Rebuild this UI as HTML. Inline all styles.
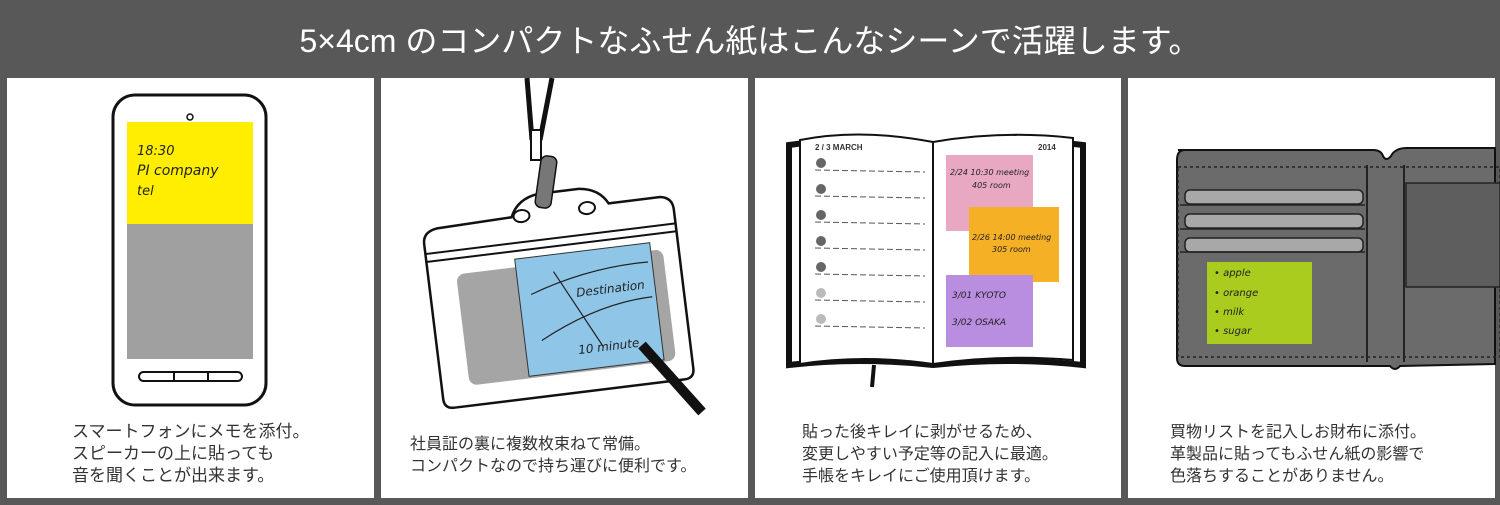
<!DOCTYPE html>
<html><head><meta charset="utf-8"><style>
html,body{margin:0;padding:0;width:1500px;height:505px;overflow:hidden;background:#585858}
svg{display:block}
.jp{font-family:"Liberation Sans","Noto Sans CJK JP",sans-serif}
.hw{font-family:"DejaVu Sans","Liberation Sans",sans-serif;font-style:italic}
</style></head><body>
<svg width="1500" height="505" viewBox="0 0 1500 505" xmlns="http://www.w3.org/2000/svg">
<rect width="1500" height="505" fill="#585858"/>
<text x="750" y="52" text-anchor="middle" class="jp" font-size="32" fill="#fff">5×4cm のコンパクトなふせん紙はこんなシーンで活躍します。</text>
<rect x="7" y="78" width="367" height="420" fill="#fff"/>
<rect x="381" y="78" width="367" height="420" fill="#fff"/>
<rect x="755" y="78" width="366" height="420" fill="#fff"/>
<rect x="1128" y="78" width="367" height="420" fill="#fff"/>

<!-- phone -->
<rect x="113" y="95" width="153" height="310" rx="22" fill="#fff" stroke="#111" stroke-width="3"/>
<circle cx="190" cy="117" r="3" fill="none" stroke="#111" stroke-width="1.5"/>
<rect x="127" y="122" width="126" height="102" fill="#ffee00"/>
<rect x="127" y="224" width="126" height="135" fill="#a0a0a0"/>
<text x="137" y="155" class="hw" font-size="13" fill="#222">18:30</text>
<text x="137" y="175" class="hw" font-size="14" fill="#222">PI company</text>
<text x="137" y="195" class="hw" font-size="13" fill="#222">tel</text>
<rect x="139" y="372" width="103" height="9" rx="4.5" fill="none" stroke="#111" stroke-width="2"/>
<line x1="174" y1="372" x2="174" y2="381" stroke="#111" stroke-width="2"/>
<line x1="208" y1="372" x2="208" y2="381" stroke="#111" stroke-width="2"/>
<text class="jp" font-size="17" fill="#333"><tspan x="72" y="437">スマートフォンにメモを添付。</tspan><tspan x="72" y="459">スピーカーの上に貼っても</tspan><tspan x="72" y="481">音を聞くことが出来ます。</tspan></text>

<!-- badge -->
<path d="M527 78 L532 140 M552 78 L540 140" stroke="#111" stroke-width="5" fill="none"/>
<rect x="531" y="130" width="10" height="30" fill="#fff" stroke="#111" stroke-width="2"/>
<g transform="rotate(-7 560 300)">
<path d="M432 228 q0-12 14-14 l76-2 q8-18 30-20 l40 0 q20 2 28 18 l52 0 q12 2 12 14 l0 160 q0 10-10 10 l-232 0 q-10 0-10-10 z" fill="#fff" stroke="#111" stroke-width="2.5"/>
<line x1="432" y1="238" x2="684" y2="238" stroke="#111" stroke-width="2"/>
<line x1="432" y1="246" x2="684" y2="246" stroke="#111" stroke-width="2"/>
<ellipse cx="532" cy="212" rx="8" ry="6" fill="none" stroke="#111" stroke-width="2"/>
<ellipse cx="598" cy="212" rx="8" ry="6" fill="none" stroke="#111" stroke-width="2"/>
<rect x="460" y="262" width="208" height="112" rx="8" fill="#a5a5a5"/>
<rect x="520" y="254" width="136" height="118" fill="#8fc6e8" stroke="#333" stroke-width="1"/>
<text x="577" y="299" class="hw" font-size="12" fill="#222">Destination</text>
<text x="572" y="356" class="hw" font-size="12" fill="#222">10 minute</text>
<path d="M532 291 q60-20 120-18 M537 338 q60-30 115-30 M557 271 l40 80" stroke="#222" fill="none" stroke-width="1.2"/>
</g>
<rect x="538" y="156" width="16" height="52" rx="6" fill="#777" stroke="#111" stroke-width="1.5" transform="rotate(8 546 182)"/>
<line x1="642" y1="345" x2="702" y2="412" stroke="#111" stroke-width="10"/>
<text class="jp" font-size="16" fill="#333"><tspan x="410" y="449">社員証の裏に複数枚束ねて常備。</tspan><tspan x="410" y="471">コンパクトなので持ち運びに便利です。</tspan></text>

<!-- notebook -->
<path d="M789 145 q70-10 144 0 q70-10 150 0 l0 220 q-75-8 -150 0 q-75-8-144 0 z" fill="#fff" stroke="#111" stroke-width="6"/>
<path d="M800 140 q60-12 133 2 l0 222 q-70-10 -133 0 z" fill="#fff" stroke="#111" stroke-width="2"/>
<path d="M933 142 q70-12 140 -4 l0 222 q-70-6 -140 4 z" fill="#fff" stroke="#111" stroke-width="2"/>
<line x1="874" y1="365" x2="872" y2="387" stroke="#111" stroke-width="4"/>
<text x="815" y="150" class="jp" font-size="8" font-weight="bold" fill="#333">2 / 3 MARCH</text>
<text x="1038" y="150" class="jp" font-size="8" font-weight="bold" fill="#333">2014</text>
<g stroke="#555" stroke-width="1" stroke-dasharray="6 3">
<line x1="815" y1="170" x2="925" y2="172"/><line x1="815" y1="196" x2="925" y2="198"/><line x1="815" y1="222" x2="925" y2="224"/><line x1="815" y1="248" x2="925" y2="250"/><line x1="815" y1="274" x2="925" y2="276"/><line x1="815" y1="300" x2="925" y2="302"/><line x1="815" y1="326" x2="925" y2="328"/>
</g>
<g fill="#666"><circle cx="821" cy="163" r="5"/><circle cx="821" cy="189" r="5"/><circle cx="821" cy="215" r="5"/><circle cx="821" cy="241" r="5"/><circle cx="821" cy="267" r="5"/></g>
<g fill="#bbb"><circle cx="821" cy="293" r="5"/><circle cx="821" cy="319" r="5"/></g>
<rect x="946" y="155" width="87" height="76" fill="#e8a8c2"/>
<rect x="969" y="207" width="90" height="75" fill="#f6b026"/>
<rect x="946" y="275" width="87" height="72" fill="#b98de0"/>
<text x="950" y="175" class="hw" font-size="8" fill="#222">2/24 10:30 meeting</text>
<text x="972" y="188" class="hw" font-size="8" fill="#222">405 room</text>
<text x="972" y="240" class="hw" font-size="8" fill="#222">2/26 14:00 meeting</text>
<text x="992" y="252" class="hw" font-size="8" fill="#222">305 room</text>
<text x="952" y="298" class="hw" font-size="9" fill="#222">3/01 KYOTO</text>
<text x="952" y="325" class="hw" font-size="9" fill="#222">3/02 OSAKA</text>
<text class="jp" font-size="16" fill="#333"><tspan x="802" y="437">貼った後キレイに剥がせるため、</tspan><tspan x="802" y="459">変更しやすい予定等の記入に最適。</tspan><tspan x="802" y="481">手帳をキレイにご使用頂けます。</tspan></text>

<!-- wallet -->
<path d="M1178 150 l195 0 q8 0 10 6 q3 6 8 0 q4-8 16-8 l88 0 l0 216 l-95 2 q-5 6 -10 0 l-205 0 q-8 0-8-8 l0-198 q0-10 8-10 z" fill="#6b6b6b" stroke="#111" stroke-width="2"/>
<rect x="1178" y="167" width="322" height="190" fill="none" stroke="#222" stroke-width="1.5" stroke-dasharray="3 3"/>
<line x1="1367" y1="165" x2="1367" y2="362" stroke="#222" stroke-width="2"/>
<line x1="1404" y1="165" x2="1404" y2="362" stroke="#222" stroke-width="2"/>
<rect x="1406" y="183" width="94" height="104" fill="#5e5e5e" stroke="#222" stroke-width="1.5"/>
<g fill="#a8a8a8" stroke="#222" stroke-width="1.5">
<rect x="1185" y="190" width="178" height="14" rx="5"/>
<rect x="1185" y="214" width="178" height="14" rx="5"/>
<rect x="1185" y="238" width="178" height="14" rx="5"/>
</g>
<path d="M1180 205 l185 0 M1180 229 l185 0 M1180 252 l185 0" stroke="#222" stroke-width="1.5"/>
<rect x="1207" y="262" width="105" height="82" fill="#a9cc1e"/>
<text class="hw" font-size="10" fill="#222"><tspan x="1214" y="276">• apple</tspan><tspan x="1214" y="296">• orange</tspan><tspan x="1214" y="315">• milk</tspan><tspan x="1214" y="334">• sugar</tspan></text>
<text class="jp" font-size="16" fill="#333"><tspan x="1170" y="437">買物リストを記入しお財布に添付。</tspan><tspan x="1170" y="459">革製品に貼ってもふせん紙の影響で</tspan><tspan x="1170" y="481">色落ちすることがありません。</tspan></text>
</svg>
</body></html>
